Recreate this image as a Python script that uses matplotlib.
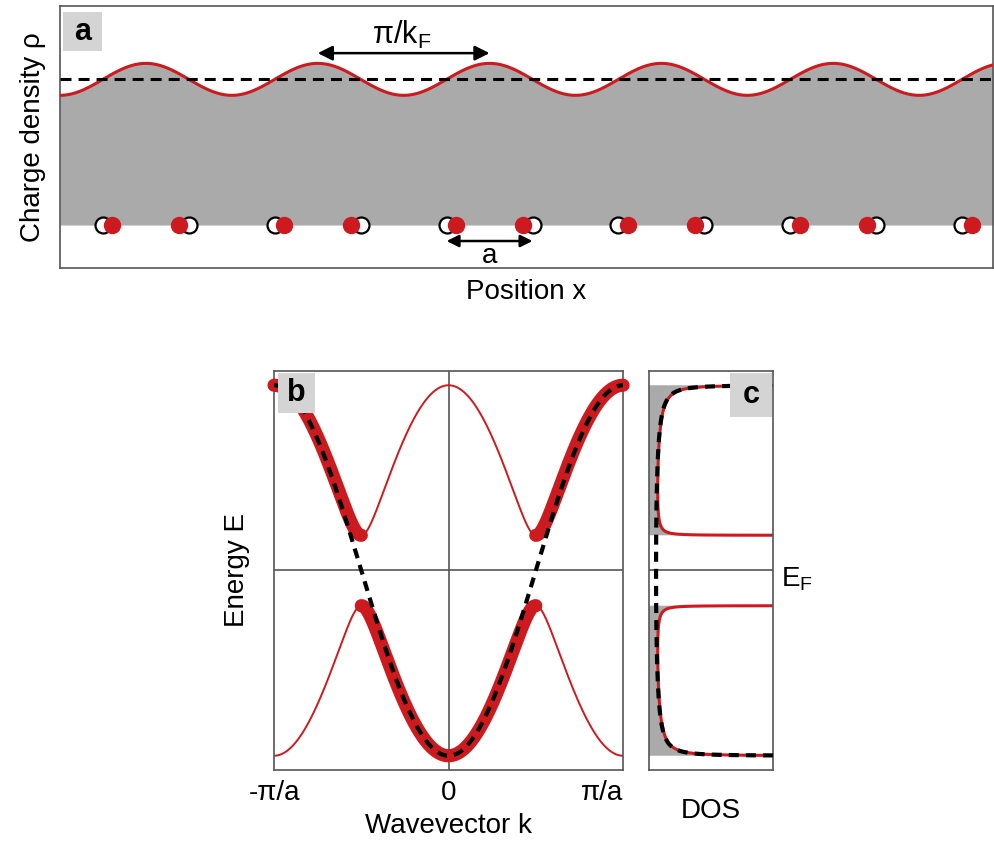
import matplotlib.pyplot as plt
from matplotlib.patches import Rectangle
import numpy as np

plt.rcParams['font.family'] = ['Liberation Sans', 'DejaVu Sans']
plt.rcParams['mathtext.fontset'] = 'custom'
plt.rcParams['mathtext.rm'] = 'Liberation Sans'
plt.rcParams['mathtext.it'] = 'Liberation Sans'

RED = '#cc1a1f'
FILL = '#aaaaaa'
FRAME = '#555555'
FS = 20

# --- chain (panel a), lengths in units of the lattice constant a
site_x = [0.5, 1.5, 2.5, 3.5, 4.5, 5.5, 6.5, 7.5, 8.5, 9.5, 10.5]
site_shift = [0.11, -0.11, 0.11, -0.11, 0.11, -0.11, 0.11, -0.11, 0.11, -0.11, 0.11]
chain_len = 10.86
ion_row = 0.164        # height of the ion row / bottom of the electron density
rho_mean = 0.72        # undistorted density (dashed)
rho_amp = 0.061        # CDW amplitude
cdw_period = 2.0       # pi/kF = 2a

# --- band model (panels b, c), energies in units of the half band width
W = 1.0
gap = 0.19
e_lim = 1.077
dos_max = 17.7


def panel_tag(ax, letter, x0, y0, x1, y1):
    ax.add_patch(Rectangle((x0, y0), x1 - x0, y1 - y0, transform=ax.transAxes,
                           facecolor='#d4d4d4', edgecolor='none', zorder=10, clip_on=False))
    ax.text((x0 + x1) / 2, (y0 + y1) / 2, letter, transform=ax.transAxes,
            ha='center', va='center', fontsize=22, fontweight='bold', zorder=11)


def frame(ax):
    for s in ax.spines.values():
        s.set_color(FRAME)
        s.set_linewidth(1.2)


fig = plt.figure(figsize=(9.95, 8.42), dpi=100)
ax_a = fig.add_axes([0.0603, 0.6817, 0.9377, 0.3112])
ax_b = fig.add_axes([0.2754, 0.0855, 0.3508, 0.4739])
ax_c = fig.add_axes([0.6523, 0.0855, 0.1246, 0.4739])

# ---------------- panel a: charge density wave over the dimerised chain
x = np.linspace(0, chain_len, 1200)
rho = rho_mean - rho_amp * np.cos(2 * np.pi * x / cdw_period)
ax_a.fill_between(x, ion_row, rho, color=FILL, lw=0, zorder=1)
ax_a.plot(x, rho, color=RED, lw=2.2, zorder=3)
ax_a.axhline(rho_mean, color='k', lw=2.2, linestyle=(0, (3.6, 2.3)), zorder=4)

sx = np.array(site_x)
ax_a.plot(sx, np.full(len(sx), ion_row), 'o', ms=11.5, mfc='white', mec='k', mew=1.6,
          zorder=5, clip_on=False)
ax_a.plot(sx + np.array(site_shift), np.full(len(sx), ion_row), 'o', ms=11.5,
          color=RED, mec=RED, zorder=6, clip_on=False)

ax_a.annotate('', xy=(3.0, 0.82), xytext=(5.0, 0.82),
              arrowprops=dict(arrowstyle='<|-|>', color='k', lw=1.8, mutation_scale=22,
                              shrinkA=0, shrinkB=0))
ax_a.text(3.98, 0.89, r'π/k$_{\rm F}$', ha='center', va='center', fontsize=22)
ax_a.annotate('', xy=(site_x[4], 0.103), xytext=(site_x[5], 0.103),
              arrowprops=dict(arrowstyle='<|-|>', color='k', lw=1.8, mutation_scale=18,
                              shrinkA=0, shrinkB=0))
ax_a.text((site_x[4] + site_x[5]) / 2, 0.045, 'a', ha='center', va='center', fontsize=FS)

ax_a.set_xlim(0, chain_len)
ax_a.set_ylim(0, 1)
ax_a.set_xticks([])
ax_a.set_yticks([])
ax_a.set_xlabel('Position x', fontsize=FS, labelpad=8)
ax_a.set_ylabel('Charge density ρ', fontsize=FS, labelpad=10)
frame(ax_a)
panel_tag(ax_a, 'a', 0.0032, 0.828, 0.045, 0.977)

# ---------------- panel b: band structure, undistorted vs Peierls gapped
k = np.linspace(-np.pi, np.pi, 1441)
e_free = -W * np.cos(k)
e_gap = np.sqrt((W * np.cos(k)) ** 2 + (gap * np.sin(k)) ** 2)

ax_b.axhline(0, color=FRAME, lw=1.2, zorder=1)
ax_b.axvline(0, color=FRAME, lw=1.2, zorder=1)
ax_b.plot(k, e_gap, color=RED, lw=1.4, zorder=2)
ax_b.plot(k, -e_gap, color=RED, lw=1.4, zorder=2)
for side in (-1, 1):
    m = side * k >= np.pi / 2
    ax_b.plot(k[m], e_gap[m], color=RED, lw=9.5, solid_capstyle='round', zorder=3, clip_on=False)
m = np.abs(k) <= np.pi / 2
ax_b.plot(k[m], -e_gap[m], color=RED, lw=9.5, solid_capstyle='round', zorder=3, clip_on=False)
ax_b.plot(k, e_free, color='k', lw=3, linestyle=(0, (2.4, 1.7)), zorder=4)

ax_b.set_xlim(-np.pi, np.pi)
ax_b.set_ylim(-e_lim, e_lim)
ax_b.set_xticks([-np.pi, 0, np.pi])
ax_b.set_xticklabels(['-π/a', '0', 'π/a'], fontsize=FS)
ax_b.get_xticklabels()[-1].set_horizontalalignment('right')
ax_b.tick_params(axis='x', length=0, pad=7)
ax_b.set_yticks([])
ax_b.set_xlabel('Wavevector k', fontsize=FS, labelpad=5)
ax_b.set_ylabel('Energy E', fontsize=FS, labelpad=17)
frame(ax_b)
panel_tag(ax_b, 'b', 0.011, 0.895, 0.117, 0.995)

# ---------------- panel c: density of states
kk = np.linspace(1e-4, np.pi / 2 - 1e-4, 4000)
e_band = np.sqrt((W * np.cos(kk)) ** 2 + (gap * np.sin(kk)) ** 2)
g_band = e_band / np.sqrt((W ** 2 - e_band ** 2) * (e_band ** 2 - gap ** 2))
k0 = np.linspace(1e-4, np.pi - 1e-4, 4000)
e0 = -W * np.cos(k0)
g0 = 1 / (W * np.sin(k0))

ax_c.axhline(0, color=FRAME, lw=1.2, zorder=1)
for sgn in (1, -1):
    ax_c.fill_betweenx(sgn * e_band, 0, g_band, color=FILL, lw=0, zorder=1)
    ax_c.plot(g_band, sgn * e_band, color=RED, lw=2.2, zorder=2)
ax_c.plot(g0, e0, color='k', lw=3, linestyle=(0, (2.4, 1.7)), zorder=3)

ax_c.set_xlim(0, dos_max)
ax_c.set_ylim(-e_lim, e_lim)
ax_c.set_xticks([])
ax_c.set_yticks([])
ax_c.set_xlabel('DOS', fontsize=FS, labelpad=20)
ax_c.annotate(r'E$_{\rm F}$', xy=(1, 0), xycoords=('axes fraction', 'data'),
              xytext=(6, -6), textcoords='offset points', ha='left', va='center', fontsize=FS)
frame(ax_c)
panel_tag(ax_c, 'c', 0.653, 0.885, 0.99, 0.995)

plt.savefig('out.png', dpi=100)
plt.close()
